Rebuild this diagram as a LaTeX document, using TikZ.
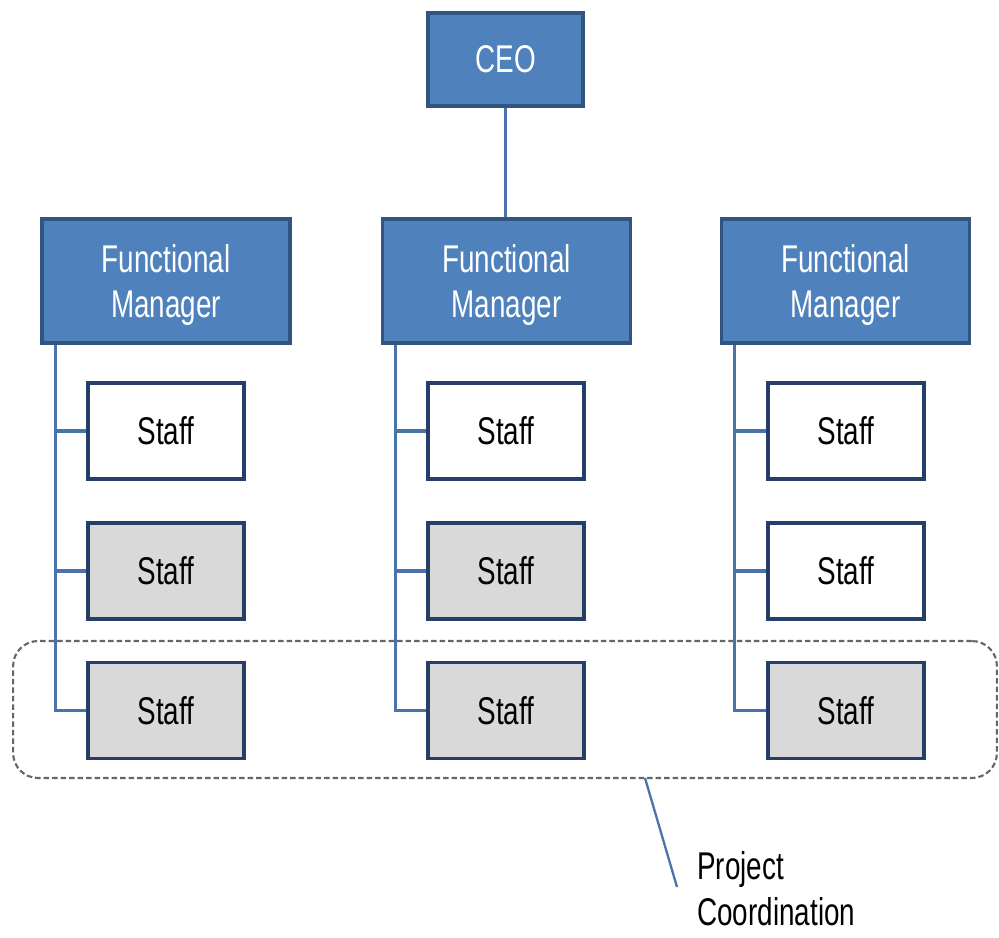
\documentclass[tikz,border=0pt]{standalone}
\usepackage{fontspec}
\newfontfamily\arialc[FakeStretch=0.72]{Liberation Sans}
\definecolor{boxblue}{HTML}{4F81BD}
\definecolor{boxedge}{HTML}{32557F}
\definecolor{staffedge}{HTML}{263F68}
\definecolor{linkblue}{HTML}{4A72AC}
\definecolor{shade}{HTML}{D9D9D9}
\definecolor{dashgray}{HTML}{666666}
\tikzset{
  blue box/.style={draw=boxedge, fill=boxblue, line width=2pt, text=white,
    font=\arialc\fontsize{22}{26}\selectfont, align=center, inner sep=0pt},
  ceobox/.style={blue box, minimum width=3.1cm, minimum height=1.86cm},
  fmbox/.style={blue box, minimum width=4.96cm, minimum height=2.48cm, text depth=0pt},
  staffbox/.style={draw=staffedge, fill=white, line width=2pt, text=black,
    font=\arialc\fontsize{22}{26}\selectfont, minimum width=3.12cm, minimum height=1.92cm, inner sep=0pt},
  shaded/.style={staffbox, fill=shade},
  link/.style={draw=linkblue, line width=1.8pt},
  groupbox/.style={draw=dashgray, line width=1.2pt, dash pattern=on 0.11cm off 0.06cm,
    rounded corners=0.5cm, minimum width=19.68cm, minimum height=2.74cm, inner sep=0pt},
  note/.style={font=\arialc\fontsize{22}{26}\selectfont, align=left, anchor=west, inner sep=0pt}
}
\begin{document}
\begin{tikzpicture}[x=0.02cm, y=-0.02cm]
\useasboundingbox (0,0) rectangle (999,937);
\fill[white] (0,0) rectangle (999,937);
% project coordination group
\node[groupbox] (grp) at (505,709.5) {};
% boxes
\node[ceobox] (ceo) at (505.5,59.5) {CEO};
\node[fmbox] (fmL) at (166,281) {Functional\\Manager};
\node[fmbox] (fmM) at (506.5,281) {Functional\\Manager};
\node[fmbox] (fmR) at (845.5,281) {Functional\\Manager};
\node[staffbox] (sL1) at (166,431) {Staff};
\node[shaded]   (sL2) at (166,571) {Staff};
\node[shaded]   (sL3) at (166,710.5) {Staff};
\node[staffbox] (sM1) at (506,431) {Staff};
\node[shaded]   (sM2) at (506,571) {Staff};
\node[shaded]   (sM3) at (506,710.5) {Staff};
\node[staffbox] (sR1) at (846,431) {Staff};
\node[staffbox] (sR2) at (846,571) {Staff};
\node[shaded]   (sR3) at (846,710.5) {Staff};
% connectors
\draw[link] (ceo.south) -- (ceo.south |- fmM.north);
\foreach \f/\s in {fmL/sL, fmM/sM, fmR/sR}{
  \draw[link] ([xshift=0.3cm]\f.south west) |- (\s3.west);
  \draw[link] ([xshift=0.3cm]\f.south west |- \s1.west) -- (\s1.west);
  \draw[link] ([xshift=0.3cm]\f.south west |- \s2.west) -- (\s2.west);
}
% note
\node[note] (pc) at (697,889) {Project\\Coordination};
\coordinate (lead) at (645,778);
\coordinate (leadend) at (677,887);
\draw[link, line width=1.3pt] (lead) -- (leadend);
\end{tikzpicture}
\end{document}
